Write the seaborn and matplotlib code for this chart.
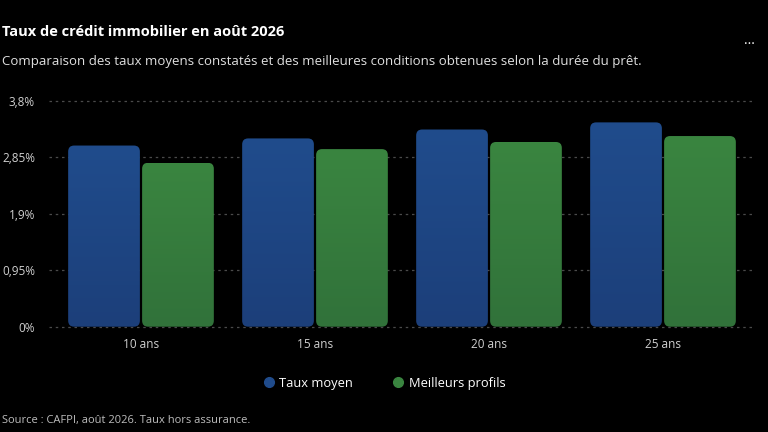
import numpy as np
import pandas as pd
import matplotlib
matplotlib.use("Agg")
import matplotlib.pyplot as plt
import seaborn as sns
from matplotlib.patches import FancyBboxPatch
from matplotlib.lines import Line2D
from matplotlib.colors import LinearSegmentedColormap

# data
durees = ["10 ans", "15 ans", "20 ans", "25 ans"]
taux_moyen = [3.05, 3.17, 3.32, 3.44]
meilleurs_profils = [2.76, 2.99, 3.11, 3.21]
series = ["Taux moyen", "Meilleurs profils"]
yticks = [0, 0.95, 1.9, 2.85, 3.8]
ytick_labels = ["0%", "0,95%", "1,9%", "2,85%", "3,8%"]

colors = {"Taux moyen": ("#204c8c", "#1c3f7a"),
          "Meilleurs profils": ("#3a8540", "#31723a")}

df = pd.DataFrame({
    "duree": durees * 2,
    "taux": taux_moyen + meilleurs_profils,
    "serie": [series[0]] * 4 + [series[1]] * 4,
})

sns.set_theme(style="dark")
plt.rcParams["font.family"] = ["Open Sans", "DejaVu Sans"]

W, H = 768, 432
fig = plt.figure(figsize=(7.68, 4.32), dpi=100, facecolor="black")
ax = fig.add_axes([49 / W, 1 - 326.7 / H, 706 / W, (326.7 - 101) / H])
ax.set_facecolor("black")

sns.barplot(data=df, x="duree", y="taux", hue="serie",
            palette={s: colors[s][0] for s in series},
            width=0.85, gap=0.03, legend=False, ax=ax, saturation=1)

ext = 5 / 174
xlim = (-0.5 - ext, 3.5 + ext)
ax.set_xlim(*xlim)
ax.set_ylim(0, 3.8)

# pixel scales for rounded corners
px_x = (xlim[1] - xlim[0]) / 706
px_y = 3.8 / (326.7 - 101)
r_px = 6

for cont, s in zip(ax.containers, series):
    top_c, bot_c = colors[s]
    cmap = LinearSegmentedColormap.from_list(s, [bot_c, top_c])
    for bar in cont:
        x0, y0 = bar.get_x(), bar.get_y()
        w, h = bar.get_width(), bar.get_height()
        bar.set_visible(False)
        rp = FancyBboxPatch((x0, y0), w, h,
                            boxstyle=f"round,pad=0,rounding_size={r_px * px_x}",
                            mutation_aspect=px_y / px_x,
                            facecolor="none", edgecolor="none")
        ax.add_patch(rp)
        grad = np.linspace(0, 1, 100).reshape(-1, 1)
        im = ax.imshow(grad, cmap=cmap, origin="lower", aspect="auto",
                       extent=(x0, x0 + w, y0, y0 + h), zorder=2)
        im.set_clip_path(rp)

ax.set_xlim(*xlim)
ax.set_ylim(0, 3.8)

# dashed grid
for yv in yticks:
    ax.plot([-0.0, 1.0], [yv, yv], transform=ax.get_yaxis_transform(),
            color="#4a4a4a", lw=0.9, ls=(0, (2, 3)), zorder=1, clip_on=False)
ax.grid(False)

ax.set_yticks(yticks)
ax.set_yticklabels(ytick_labels)
ax.tick_params(axis="y", labelsize=8.5, length=0, pad=10)
ax.tick_params(axis="x", labelsize=8.5, length=0, pad=8)
for lab in ax.get_xticklabels() + ax.get_yticklabels():
    lab.set_color("#d0d0d0")
ax.set_xlabel("")
ax.set_ylabel("")
for sp in ax.spines.values():
    sp.set_visible(False)

fig.text(2 / W, 1 - 32 / H, "Taux de crédit immobilier en août 2026",
         color="white", fontsize=10.5, fontweight="bold", va="center", ha="left")
fig.text(2 / W, 1 - 61 / H,
         "Comparaison des taux moyens constatés et des meilleures conditions obtenues selon la durée du prêt.",
         color="#e0e0e0", fontsize=9.5, va="center", ha="left")
fig.text(749 / W, 1 - 40 / H, "...", color="white", fontsize=10,
         va="center", ha="center")
fig.text(2 / W, 1 - 421 / H, "Source : CAFPI, août 2026. Taux hors assurance.",
         color="#bdbdbd", fontsize=8, va="center", ha="left")

handles = [Line2D([], [], marker="o", ls="", markersize=7,
                  markerfacecolor=colors[s][0], markeredgecolor=colors[s][0])
           for s in series]
fig.legend(handles, series, loc="center", bbox_to_anchor=(0.5, 1 - 383 / H),
           ncol=2, frameon=False, labelcolor="white", fontsize=9.3,
           handletextpad=0.3, columnspacing=3.0, handlelength=1.0)

fig.savefig("out.png", dpi=100, facecolor="black")
